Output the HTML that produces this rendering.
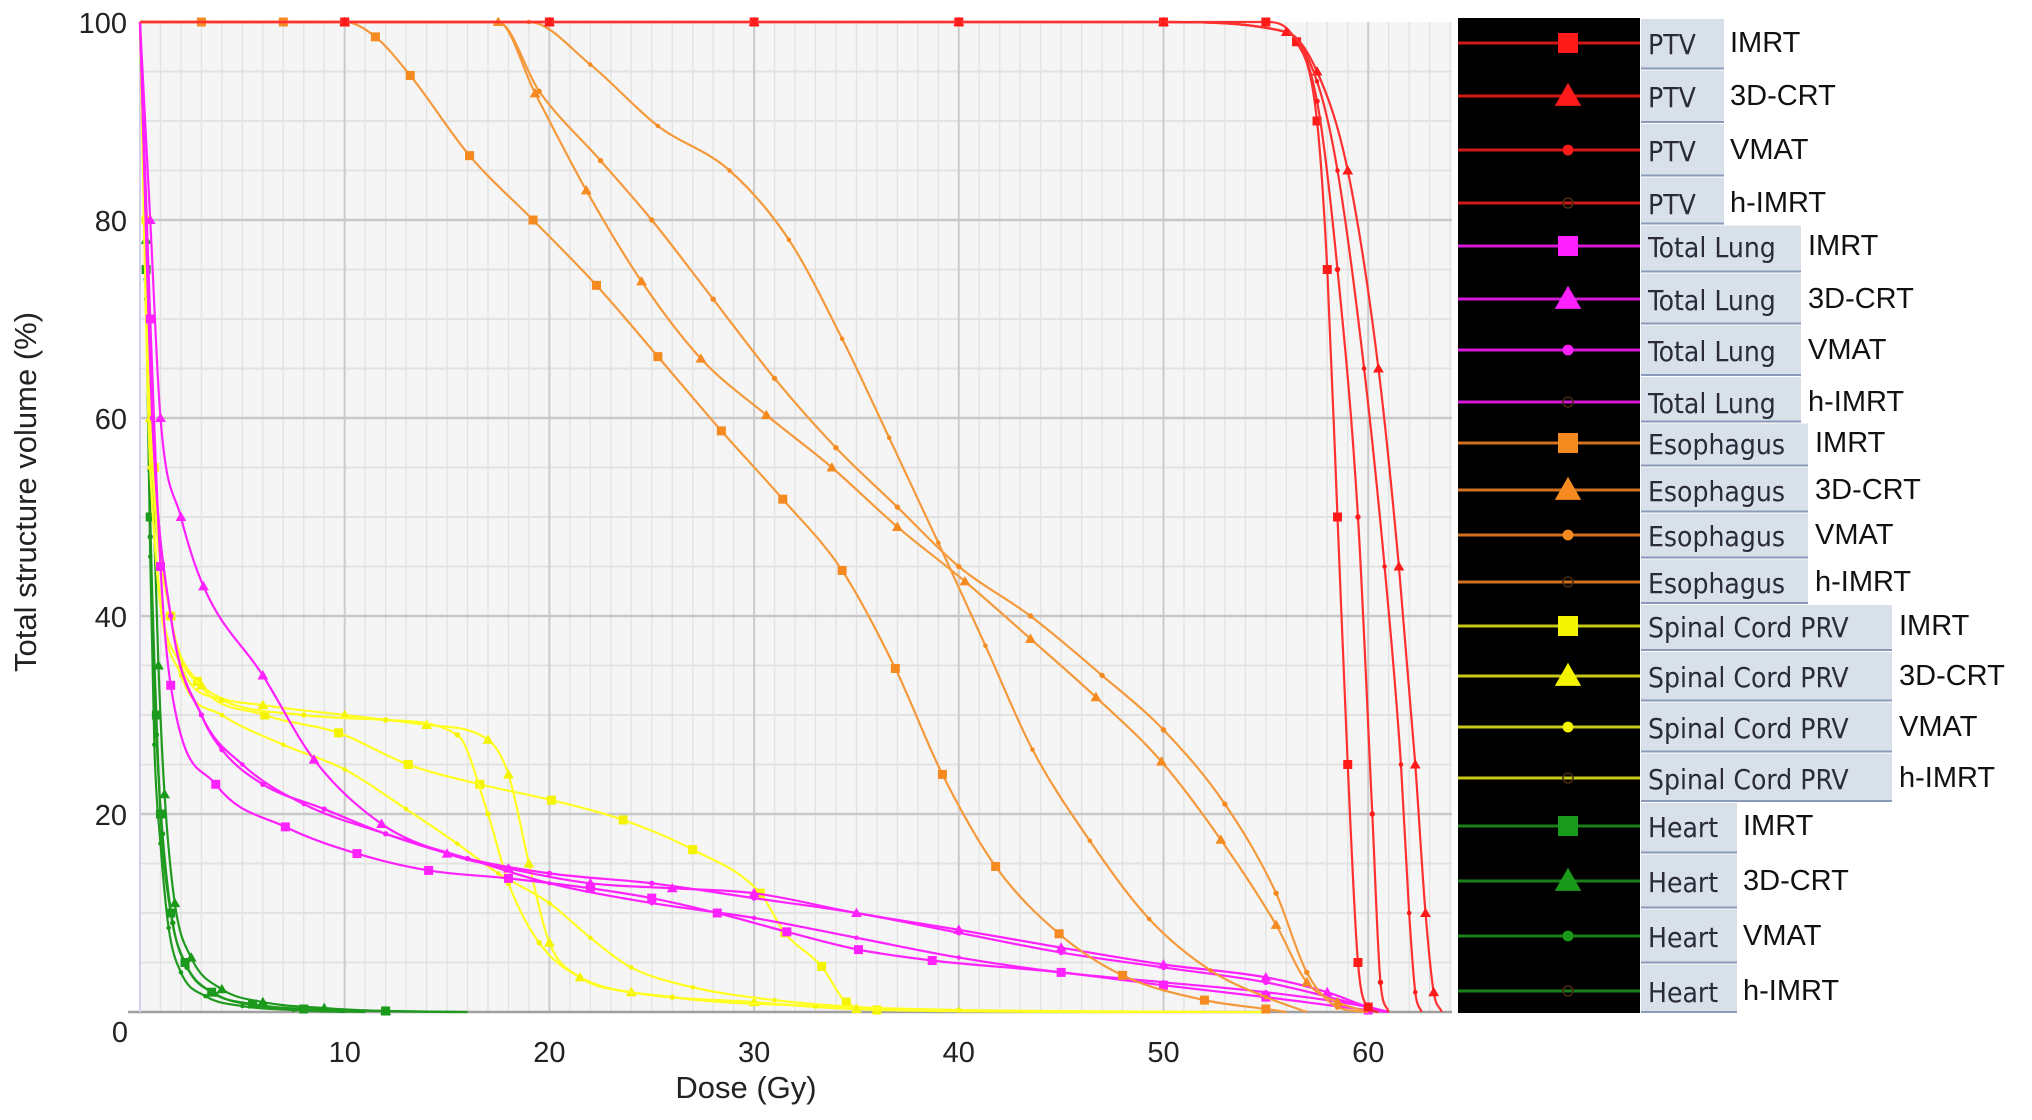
<!DOCTYPE html>
<html><head><meta charset="utf-8">
<style>
html,body{margin:0;padding:0;background:#fff;}
body{width:2032px;height:1120px;overflow:hidden;position:relative;font-family:"Liberation Sans",sans-serif;}
svg{position:absolute;left:0;top:0;}
</style></head>
<body>
<svg id="chart" width="2032" height="1120"></svg>
<script>
// ---- data (dose Gy, volume %) ----
const xTicks = [0,10,20,30,40,50,60];
const yTicks = [0,20,40,60,80,100];
const structures = ["PTV","Total Lung","Esophagus","Spinal Cord PRV","Heart"];
const methods = ["IMRT","3D-CRT","VMAT","h-IMRT"];

const ptvIMRT_x = [0,10,20,30,40,50,55,56.5,57.5,58,58.5,59,59.5,60,60.5];
const ptvIMRT_y = [100,100,100,100,100,100,100,98,90,75,50,25,5,0.5,0];
const ptv3D_x = [0,10,20,30,40,50,56,57.5,59,60.5,61.5,62.3,62.8,63.2,63.6];
const ptv3D_y = [100,100,100,100,100,100,99,95,85,65,45,25,10,2,0];
const ptvVMAT_x = [0,10,20,30,40,50,56,57.5,58.5,59.5,60.2,60.6,61];
const ptvVMAT_y = [100,100,100,100,100,100,99,92,75,50,20,3,0];
const ptvH_x = [0,10,20,30,40,50,56,57.5,58.5,59.8,60.8,61.6,62,62.3,62.6];
const ptvH_y = [100,100,100,100,100,100,99,94,85,65,45,25,10,2,0];

const lungIMRT_x = [0,0.5,1,1.5,3.7,7.1,10.6,14.1,18,22,25,28.2,31.6,35.1,38.7,45,50,55,60,61];
const lungIMRT_y = [100,70,45,33,23,18.7,16,14.3,13.5,12.5,11.5,10,8.1,6.3,5.2,4,2.7,1.5,0.2,0];
const lung3D_x = [0,0.5,1,2,3.1,6,8.5,11.8,15,18,22,26,30,35,40,45,50,55,58,60,61];
const lung3D_y = [100,80,60,50,43,34,25.5,19,16,14.5,13,12.5,12,10,8.3,6.5,4.8,3.5,2,0.5,0];
const lungVMAT_x = [0,0.6,1.5,3,4,6,9,12,16,20,25,30,35,40,45,50,55,60,61];
const lungVMAT_y = [100,60,40,30,26.5,23,20.5,18,15.5,14,13,11.5,10,8,6,4.5,3,0.5,0];
const lungH_x = [0,0.6,1.5,3,5,8,12,16,20,25,30,35,40,45,50,55,60,61];
const lungH_y = [100,60,40,30,25,21,18,15.5,13,11,9.5,7.5,5.5,4,3,2,0.5,0];

const esoIMRT_x = [0,3,7,10,11.5,13.2,16.1,19.2,22.3,25.3,28.4,31.4,34.3,36.9,39.2,41.8,44.9,48,52,55,56];
const esoIMRT_y = [100,100,100,100,98.5,94.6,86.5,80,73.4,66.2,58.7,51.8,44.6,34.7,24,14.7,7.9,3.7,1.2,0.3,0];
const eso3D_x = [0,10,17.5,19.3,21.8,24.5,27.4,30.6,33.8,37,40.3,43.5,46.7,49.9,52.8,55.5,57,58.5,60];
const eso3D_y = [100,100,100,92.8,83,73.8,66,60.3,55,49,43.5,37.7,31.8,25.3,17.4,8.8,3,1,0];
const esoVMAT_x = [0,10,17.5,19.5,22.5,25,28,31,34,37,40,43.5,47,50,53,55.5,57,58.5,60];
const esoVMAT_y = [100,100,100,93,86,80,72,64,57,51,45,40,34,28.5,21,12,4,0.5,0];
const esoH_x = [0,10,19,22,25.3,28.8,31.7,34.3,36.6,39,41.3,43.6,46.4,49.3,52.3,55,57];
const esoH_y = [100,100,100,95.7,89.5,85,78,68,58,47.4,37,26.5,17.3,9.4,4.2,1.5,0];

const cordIMRT_x = [0,0.3,0.7,1.5,2.8,6.1,9.7,13.1,16.6,20.1,23.6,27,30.3,31.5,33.3,34.5,36,50];
const cordIMRT_y = [100,80,55,40,33.4,30,28.2,25,23,21.4,19.4,16.4,12,8,4.6,1,0.2,0];
const cord3D_x = [0,0.5,1.5,3,6,10,14,17,18,19,20,21.5,24,30,35,55];
const cord3D_y = [100,60,40,33,31,30,29,27.5,24,15,7,3.5,2,1,0.3,0];
const cordVMAT_x = [0,0.5,2,4,8,12,15.5,17,18,19.5,21.5,26,33,40,52];
const cordVMAT_y = [100,55,35,31.5,30,29.5,28,20,13,7,3.5,1.5,0.6,0.2,0];
const cordH_x = [0,0.5,2,4,7,10,13,15.5,17.5,20,22,24,27,31,35,45];
const cordH_y = [100,55,34,30,27,24.5,20.5,17,14,11,7.5,4.5,2.5,1.2,0.5,0];

const heartIMRT_x = [0,0.3,0.5,0.8,1,1.5,2.2,3.5,5.5,8,12,16];
const heartIMRT_y = [100,75,50,30,20,10,5,2,0.8,0.3,0.1,0];
const heart3D_x = [0,0.3,0.6,0.9,1.2,1.7,2.5,4,6,9,12,15.5];
const heart3D_y = [100,78,55,35,22,11,5.5,2.3,1,0.4,0.1,0];
const heartVMAT_x = [0,0.3,0.5,0.8,1.1,1.6,2.3,3.7,5.5,8,11];
const heartVMAT_y = [100,74,48,28,18,9,4.5,1.8,0.7,0.2,0];
const heartH_x = [0,0.3,0.5,0.7,1,1.4,2,3.2,5,7.5,10];
const heartH_y = [100,72,46,27,17,8.5,4,1.6,0.6,0.2,0];

// ---- layout ----
const L=140,R=1452,T=22,B=1012;
const X = g => L + g*20.47;
const Y = v => B - v*(B-T)/100;
const NS="http://www.w3.org/2000/svg";
const svg=document.getElementById('chart');
function mk(tag,attrs,parent){const e=document.createElementNS(NS,tag);for(const k in attrs)e.setAttribute(k,attrs[k]);(parent||svg).appendChild(e);return e;}

const bg=mk('rect',{x:L,y:T,width:R-L,height:B-T,fill:'#f5f5f5'});


const grid=mk('g',{});


for(let g=1;g<=64;g++){ if(g%10) mk('line',{x1:X(g),x2:X(g),y1:T,y2:B,stroke:'#e2e2e2','stroke-width':1.3},grid); }
for(let v=5;v<100;v+=5){ if(v%20) mk('line',{x1:L,x2:R,y1:Y(v),y2:Y(v),stroke:'#e2e2e2','stroke-width':2},grid); }
for(const g of xTicks){ if(g>0) mk('line',{x1:X(g),x2:X(g),y1:T,y2:B,stroke:'#cbcbcb','stroke-width':2},grid); }
for(const v of yTicks){ if(v>0&&v<100) mk('line',{x1:L,x2:R,y1:Y(v),y2:Y(v),stroke:'#c8c8c8','stroke-width':2.5},grid); }
const xax=mk('line',{x1:128,x2:R,y1:B,y2:B,stroke:'#a0a0a0','stroke-width':2.5});


const yax=mk('line',{x1:L,x2:L,y1:T,y2:B,stroke:'#d0d0e8','stroke-width':2});



for(const g of xTicks){ if(g===0) continue;
 const t=mk('text',{x:X(g),y:1062,'text-anchor':'middle','font-size':29,fill:'#222'});t.textContent=g;
 
 }
for(const v of yTicks){const t=mk('text',{x:127,y:Y(v)+11,'text-anchor':'end','font-size':29,fill:'#222'});t.textContent=v;
 if(v===0){t.setAttribute('y',Y(v)+30);t.setAttribute('x',128);}
 
 }
const xt=mk('text',{x:746,y:1098,'text-anchor':'middle','font-size':31,fill:'#222'});xt.textContent='Dose (Gy)';


const yt=mk('text',{x:0,y:0,'text-anchor':'middle','font-size':31,fill:'#222',transform:'translate(36,492) rotate(-90)'});yt.textContent='Total structure volume (%)';



// monotone cubic (Fritsch-Carlson) path
function pathOf(xs,ys){
  const p=xs.map((x,i)=>[X(x),Y(ys[i])]);
  const n=p.length, d=[], m=new Array(n);
  for(let i=0;i<n-1;i++) d.push((p[i+1][1]-p[i][1])/(p[i+1][0]-p[i][0]));
  m[0]=d[0]; m[n-1]=d[n-2];
  for(let i=1;i<n-1;i++) m[i]=(d[i-1]*d[i]<=0)?0:(d[i-1]+d[i])/2;
  for(let i=0;i<n-1;i++){
    if(d[i]===0){m[i]=0;m[i+1]=0;continue;}
    const a=m[i]/d[i],b=m[i+1]/d[i],s=a*a+b*b;
    if(s>9){const t=3/Math.sqrt(s);m[i]=t*a*d[i];m[i+1]=t*b*d[i];}
  }
  let s='M'+p[0][0]+','+p[0][1];
  for(let i=0;i<n-1;i++){
    const h=(p[i+1][0]-p[i][0])/3;
    s+=` C${p[i][0]+h},${p[i][1]+m[i]*h} ${p[i+1][0]-h},${p[i+1][1]-m[i+1]*h} ${p[i+1][0]},${p[i+1][1]}`;
  }
  return s;
}
function marker(kind,cx,cy,color,size,parent){
  if(kind===0) return mk('rect',{x:cx-size/2,y:cy-size/2,width:size,height:size,fill:color},parent);
  if(kind===1) return mk('polygon',{points:`${cx},${cy-size*0.6} ${cx-size*0.6},${cy+size*0.45} ${cx+size*0.6},${cy+size*0.45}`,fill:color},parent);
  if(kind===2) return mk('circle',{cx:cx,cy:cy,r:size*0.3,fill:color},parent);
  return mk('circle',{cx:cx,cy:cy,r:size*0.25,fill:color},parent);
}

const colors=['#ff3030','#ff22ff','#f59a3c','#ffff22','#1f9a1f'];
const markColors=['#ff1a1a','#ff22ff','#f58a20','#f4f400','#1a9a1a'];
const series=[
 [[ptvIMRT_x,ptvIMRT_y],[ptv3D_x,ptv3D_y],[ptvVMAT_x,ptvVMAT_y],[ptvH_x,ptvH_y]],
 [[lungIMRT_x,lungIMRT_y],[lung3D_x,lung3D_y],[lungVMAT_x,lungVMAT_y],[lungH_x,lungH_y]],
 [[esoIMRT_x,esoIMRT_y],[eso3D_x,eso3D_y],[esoVMAT_x,esoVMAT_y],[esoH_x,esoH_y]],
 [[cordIMRT_x,cordIMRT_y],[cord3D_x,cord3D_y],[cordVMAT_x,cordVMAT_y],[cordH_x,cordH_y]],
 [[heartIMRT_x,heartIMRT_y],[heart3D_x,heart3D_y],[heartVMAT_x,heartVMAT_y],[heartH_x,heartH_y]]
];
const order=[4,3,1,2,0];
for(const s of order){
  for(let m=0;m<4;m++){
    const [xs,ys]=series[s][m];
    const g=mk('g',{});
    
    
    mk('path',{d:pathOf(xs,ys),fill:'none',stroke:colors[s],'stroke-width':2.2},g);
    for(let i=1;i<xs.length-1;i++) marker(m,X(xs[i]),Y(ys[i]),markColors[s],9,g);
  }
}

// legend
const lg=mk('g',{});


mk('rect',{x:1458,y:18,width:182,height:995,fill:'#000'},lg);
const rowY=[43,96,150,203,246,299,350,402,443,490,535,582,626,676,727,778,826,881,936,991];
const boxRight=[1724,1801,1808,1892,1737];
const methX=[1730,1808,1815,1899,1743];
const lineCol=['#d01818','#d418d4','#d07020','#c8c818','#1a801a'];
for(let s=0;s<5;s++)for(let m=0;m<4;m++){
  const i=s*4+m, cy=rowY[i];
  const top=i===0?18:(rowY[i-1]+cy)/2, bot=i===19?1013:(rowY[i+1]+cy)/2;
  const e=mk('g',{},lg);
  
  
  mk('line',{x1:1458,x2:1640,y1:cy,y2:cy,stroke:lineCol[s],'stroke-width':3},e);
  if(m===3) mk('circle',{cx:1568,cy:cy,r:5,fill:'none',stroke:'#4a2a10','stroke-width':1.5},e);
  else marker(m,1568,cy,markColors[s],m===0?20:m===1?22:18,e);
  mk('rect',{x:1641,y:top+1,width:boxRight[s]-1641,height:bot-top-2,fill:'#d8e0ea'},e);
  mk('line',{x1:1641,x2:boxRight[s],y1:bot-1,y2:bot-1,stroke:'#8a9ab8','stroke-width':2},e);
  const t=mk('text',{x:1648,y:cy+11,'font-size':28,fill:'#2a2a3a','font-family':'"DejaVu Sans Condensed","DejaVu Sans",sans-serif'},e);
  t.textContent=structures[s];
  const t2=mk('text',{x:methX[s],y:cy+9,'font-size':29,fill:'#111'},e);
  t2.textContent=methods[m];
}
</script>
</body></html>
